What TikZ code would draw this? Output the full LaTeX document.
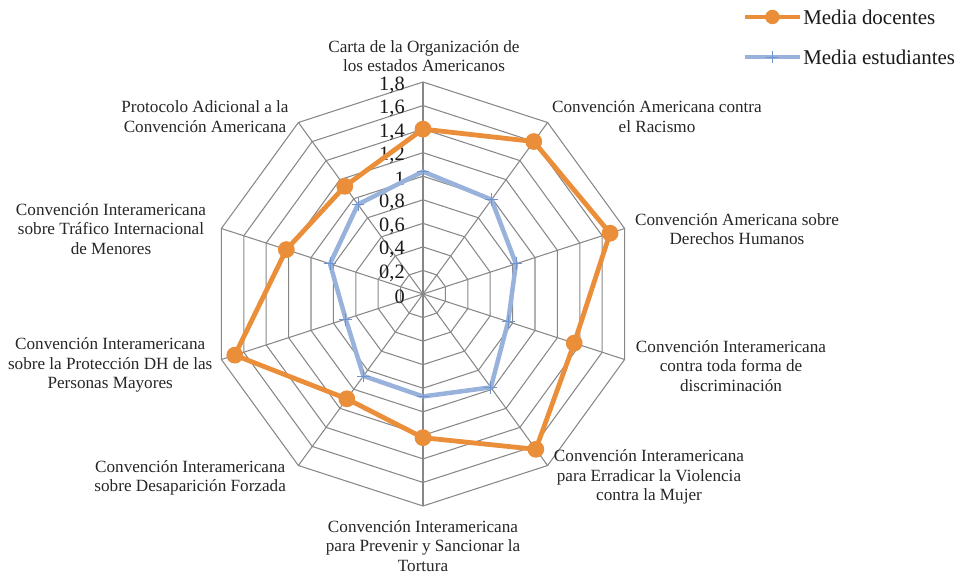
\documentclass[tikz,border=0pt]{standalone}
\usepackage{fontspec}
\setmainfont{Liberation Serif}
\definecolor{docente}{RGB}{234,142,58}
\definecolor{alumno}{RGB}{152,178,220}
\definecolor{cruzazul}{RGB}{110,148,208}
\definecolor{rejilla}{RGB}{135,135,135}
\tikzset{
  malla/.style={draw=rejilla,line width=0.75pt},
  eje/.style={font=\fontsize{12.2}{13.9}\selectfont,align=center,text=black!85,inner sep=0pt},
  numero/.style={font=\fontsize{14.5}{16}\selectfont,anchor=east,inner sep=0pt,text=black!90},
  serieDoc/.style={draw=docente,line width=3.4pt,line join=round},
  serieEst/.style={draw=alumno,line width=3.2pt,line join=round},
  punto/.style={circle,fill=docente,minimum size=0.42cm,inner sep=0pt},
  cruz/.style={draw=cruzazul,line width=0.6pt},
  leyenda/.style={font=\fontsize{14.9}{17}\selectfont,anchor=west,inner sep=0pt,text=black!90}
}
\def\k{2.9444}
\def\docentes{1.4,1.6,1.67,1.35,1.63,1.22,1.1,1.68,1.22,1.13}
\def\estudiantes{1.04,0.99,0.83,0.76,0.98,0.87,0.86,0.69,0.83,0.94}
\begin{document}
\begin{tikzpicture}
  \useasboundingbox (-10.575,-7.075) rectangle (13.55,7.35);
  % red de fondo
  \foreach \r in {0.2,0.4,...,1.8}
    \draw[malla] (90:{\r*\k}) \foreach \i in {1,...,9}{ -- ({90-36*\i}:{\r*\k})} -- cycle;
  \foreach \i in {0,...,9}
    \draw[malla] (0,0) -- ({90-36*\i}:{1.8*\k});
  \foreach \v/\t [count=\n] in {0/0,0.2/{0,2},0.4/{0,4},0.6/{0,6},0.8/{0,8},1/1,1.2/{1,2},1.4/{1,4},1.6/{1,6},1.8/{1,8}}
    \node[numero] (num\n) at (-0.45,{\v*\k-0.07}) {\t};
  % media estudiantes
  \foreach \v [count=\i] in \estudiantes
    \coordinate (e\i) at ({90-36*(\i-1)}:{\v*\k});
  \draw[serieEst] (e1) \foreach \i in {2,...,10}{ -- (e\i)} -- cycle;
  \foreach \i in {1,...,10}
    \draw[cruz] ([xshift=-0.16cm]e\i) -- ([xshift=0.16cm]e\i)
                ([yshift=-0.16cm]e\i) -- ([yshift=0.16cm]e\i);
  % media docentes
  \foreach \v [count=\i] in \docentes
    \coordinate (d\i) at ({90-36*(\i-1)}:{\v*\k});
  \draw[serieDoc] (d1) \foreach \i in {2,...,10}{ -- (d\i)} -- cycle;
  \foreach \i in {1,...,10}
    \node[punto] (md\i) at (d\i) {};
  % rotulos de los ejes
  \node[eje] (carta) at (0.025,5.95) {Carta de la Organización de\\los estados Americanos};
  \node[eje] (racismo) at (5.85,4.43) {Convención Americana contra\\el Racismo};
  \node[eje] (dh) at (7.85,1.62) {Convención Americana sobre\\Derechos Humanos};
  \node[eje] (discrim) at (7.7,-1.8) {Convención Interamericana\\contra toda forma de\\discriminación};
  \node[eje] (mujer) at (5.65,-4.58) {Convención Interamericana\\para Erradicar la Violencia\\contra la Mujer};
  \node[eje] (tortura) at (0,-6.3) {Convención Interamericana\\para Prevenir y Sancionar la\\Tortura};
  \node[eje] (desap) at (-5.82,-4.6) {Convención Interamericana\\sobre Desaparición Forzada};
  \node[eje] (mayores) at (-7.82,-1.78) {Convención Interamericana\\sobre la Protección DH de las\\Personas Mayores};
  \node[eje] (menores) at (-7.8,1.63) {Convención Interamericana\\sobre Tráfico Internacional\\de Menores};
  \node[eje] (protocolo) at (-5.45,4.43) {Protocolo Adicional a la\\Convención Americana};
  % leyenda
  \coordinate (l1a) at (8.05,6.925);
  \coordinate (l1b) at (9.42,6.925);
  \coordinate (l2a) at (8.05,5.925);
  \coordinate (l2b) at (9.42,5.925);
  \draw[serieDoc,line width=3pt] (l1a) -- (l1b);
  \node[punto,minimum size=0.36cm] (lpunto) at (8.735,6.925) {};
  \node[leyenda] (leyDoc) at (9.5,6.925) {Media docentes};
  \draw[serieEst,line width=3pt] (l2a) -- (l2b);
  \coordinate (lc) at (8.735,5.925);
  \draw[cruz] ([xshift=-0.15cm]lc) -- ([xshift=0.15cm]lc) ([yshift=-0.15cm]lc) -- ([yshift=0.15cm]lc);
  \node[leyenda] (leyEst) at (9.5,5.925) {Media estudiantes};
\end{tikzpicture}
\end{document}
